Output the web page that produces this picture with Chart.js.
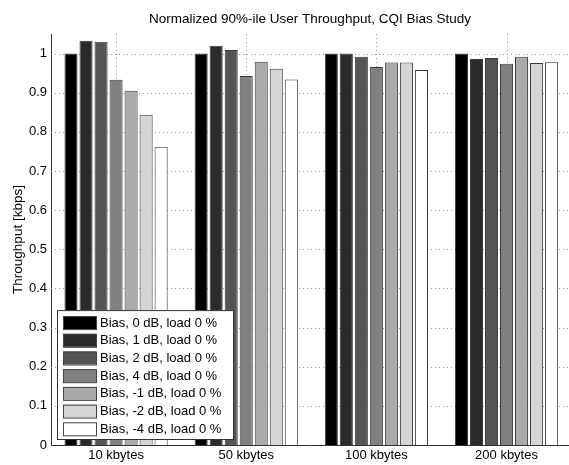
<!DOCTYPE html>
<html>
<head>
<meta charset="utf-8">
<script src="https://cdn.jsdelivr.net/npm/chart.js@4/dist/chart.umd.min.js"></script>
<style>
  html, body { margin: 0; padding: 0; background: #fff; overflow: hidden; }
  #wrap { width: 569px; height: 465px; }
</style>
</head>
<body>
<div id="wrap"><canvas id="chartBias"></canvas></div>
<script>
// categories (message sizes)
var categories = ['10 kbytes', '50 kbytes', '100 kbytes', '200 kbytes'];
var yTicks = [0, 0.1, 0.2, 0.3, 0.4, 0.5, 0.6, 0.7, 0.8, 0.9, 1];

// normalized 90%-ile throughput per bias setting
var bias0  = [1.000, 1.000, 1.000, 1.000];
var bias1  = [1.033, 1.020, 1.000, 0.986];
var bias2  = [1.030, 1.009, 0.992, 0.989];
var bias4  = [0.933, 0.943, 0.966, 0.974];
var biasM1 = [0.905, 0.979, 0.977, 0.992];
var biasM2 = [0.844, 0.961, 0.977, 0.976];
var biasM4 = [0.762, 0.934, 0.958, 0.978];

var seriesLabels = [
    'Bias, 0 dB, load 0 %', 'Bias, 1 dB, load 0 %', 'Bias, 2 dB, load 0 %',
    'Bias, 4 dB, load 0 %', 'Bias, -1 dB, load 0 %', 'Bias, -2 dB, load 0 %',
    'Bias, -4 dB, load 0 %'
];
var seriesData = [bias0, bias1, bias2, bias4, biasM1, biasM2, biasM4];
var seriesColors = ['#000000', '#2b2b2b', '#555555', '#808080', '#aaaaaa', '#d5d5d5', '#ffffff'];

var chartTitle = 'Normalized 90%-ile User Throughput, CQI Bias Study';
var FONT = 'Liberation Sans, Arial, Helvetica, sans-serif';

function toPoints(arr) {
    return arr.map(function(v, i) { return { x: i + 1, y: v }; });
}

// dotted matlab-style grid, drawn from the scales' own ticks
var dottedGrid = {
    id: 'dottedGrid',
    beforeDatasetsDraw: function(chart) {
        var ctx = chart.ctx;
        var area = chart.chartArea;
        var xs = chart.scales.x, ys = chart.scales.y;
        ctx.save();
        ctx.strokeStyle = '#9a9a9a';
        ctx.lineWidth = 1;
        ctx.setLineDash([1, 3]);
        ys.ticks.forEach(function(t) {
            if (t.value === 0) return;
            var py = Math.round(ys.getPixelForValue(t.value)) + 0.5;
            ctx.beginPath();
            ctx.moveTo(area.left, py);
            ctx.lineTo(area.right, py);
            ctx.stroke();
        });
        xs.ticks.forEach(function(t) {
            var px = Math.round(xs.getPixelForValue(t.value)) + 0.5;
            ctx.beginPath();
            ctx.moveTo(px, area.top);
            ctx.lineTo(px, area.bottom);
            ctx.stroke();
        });
        ctx.restore();
    }
};

// title centred over the axes box rather than the whole canvas
var axesTitle = {
    id: 'axesTitle',
    afterDraw: function(chart) {
        var ctx = chart.ctx;
        var area = chart.chartArea;
        ctx.save();
        ctx.font = '13.5px ' + FONT;
        ctx.fillStyle = '#000';
        ctx.textAlign = 'center';
        ctx.textBaseline = 'middle';
        ctx.fillText(chartTitle, (area.left + area.right) / 2, 19);
        ctx.restore();
    }
};

// legend drawn inside the plot, lower-left corner, like the matlab figure
var insideLegend = {
    id: 'insideLegend',
    afterDatasetsDraw: function(chart) {
        var ctx = chart.ctx;
        var area = chart.chartArea;
        var ds = chart.data.datasets;
        var boxL = area.left + 6, boxW = 176, rowH = 17.7;
        var boxH = ds.length * rowH + 5;
        var boxT = area.bottom - 6 - boxH;
        ctx.save();
        ctx.fillStyle = '#fff';
        ctx.fillRect(boxL, boxT, boxW, boxH);
        ctx.strokeStyle = '#333';
        ctx.lineWidth = 1;
        ctx.strokeRect(boxL + 0.5, boxT + 0.5, boxW, boxH);
        ctx.font = '13px ' + FONT;
        ctx.textBaseline = 'middle';
        ds.forEach(function(d, i) {
            var cy = boxT + 12 + i * rowH;
            ctx.fillStyle = d.backgroundColor;
            ctx.fillRect(boxL + 6, cy - 6, 33, 13);
            ctx.strokeStyle = '#444';
            ctx.strokeRect(boxL + 6.5, cy - 5.5, 33, 13);
            ctx.fillStyle = '#000';
            ctx.fillText(d.label, boxL + 43, cy + 1);
        });
        ctx.restore();
    }
};

var ctx = document.getElementById('chartBias').getContext('2d');
var chartBias = new Chart(ctx, {
    type: 'bar',
    data: {
        datasets: seriesData.map(function(arr, i) {
            return {
                label: seriesLabels[i],
                data: toPoints(arr),
                backgroundColor: seriesColors[i],
                borderColor: '#3a3a3a',
                borderWidth: 1,
                categoryPercentage: 0.808,
                barPercentage: 0.87
            };
        })
    },
    options: {
        responsive: true,
        maintainAspectRatio: false,
        animation: false,
        layout: { padding: { left: 0, right: 0, top: 34, bottom: 0 } },
        plugins: {
            legend: { display: false },
            tooltip: { enabled: false },
            title: { display: false }
        },
        scales: {
            x: {
                type: 'linear',
                offset: false,
                min: 0.5,
                max: 4.48,
                afterBuildTicks: function(scale) {
                    scale.ticks = categories.map(function(c, i) { return { value: i + 1 }; });
                },
                afterFit: function(scale) { scale.height = 20; },
                ticks: {
                    color: '#000',
                    font: { family: FONT, size: 13 },
                    padding: 3,
                    maxRotation: 0,
                    callback: function(v) { return categories[v - 1]; }
                },
                grid: { display: false, drawTicks: false },
                border: { color: '#333', display: true }
            },
            y: {
                min: 0,
                max: 1.05,
                afterBuildTicks: function(scale) {
                    scale.ticks = yTicks.map(function(v) { return { value: v }; });
                },
                afterFit: function(scale) { scale.width = 51; },
                ticks: {
                    color: '#000',
                    font: { family: FONT, size: 13 },
                    padding: 4,
                    callback: function(v) { return String(Math.round(v * 10) / 10); }
                },
                grid: { display: false, drawTicks: false },
                border: { color: '#333', display: true },
                title: {
                    display: true,
                    text: 'Throughput [kbps]',
                    color: '#000',
                    font: { family: FONT, size: 13.5 },
                    padding: { top: 10, bottom: 0 }
                }
            }
        }
    },
    plugins: [dottedGrid, axesTitle, insideLegend]
});
</script>
</body>
</html>
